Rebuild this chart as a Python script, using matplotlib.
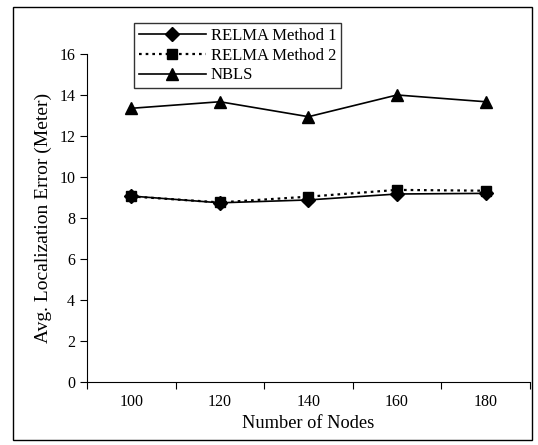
import matplotlib
matplotlib.use("Agg")
import matplotlib.pyplot as plt
from matplotlib.patches import Rectangle

plt.rcParams['font.family'] = ['Liberation Serif', 'DejaVu Serif']

# data
nodes = [100, 120, 140, 160, 180]
relma1 = [9.07, 8.74, 8.88, 9.17, 9.20]
relma2 = [9.05, 8.76, 9.04, 9.37, 9.33]
nbls = [13.35, 13.67, 12.94, 14.00, 13.67]

fig = plt.figure(figsize=(5.38, 4.45), dpi=100)
ax = fig.add_axes([0.1617, 0.1416, 0.8233, 0.7371])

# outer frame around the whole chart
fig.patches.append(Rectangle((13 / 538, 5 / 445), 519 / 538, 433 / 445,
                             transform=fig.transFigure, fill=False,
                             edgecolor='black', linewidth=1.0))

ax.plot(nodes, relma1, color='black', linewidth=1.2, marker='D', markersize=7,
        label='RELMA Method 1')
ax.plot(nodes, relma2, color='black', linewidth=1.6, linestyle=(0, (1.2, 1.8)),
        marker='s', markersize=7, label='RELMA Method 2')
ax.plot(nodes, nbls, color='black', linewidth=1.2, marker='^', markersize=9,
        label='NBLS')

ax.set_xlim(90, 190)
ax.set_ylim(0, 16)
ax.set_yticks(range(0, 17, 2))
ax.set_xticks(range(90, 191, 20))
ax.set_xticklabels([])
ax.set_xticks(nodes, minor=True)
ax.set_xticklabels([str(n) for n in nodes], minor=True)
ax.tick_params(axis='x', which='minor', length=0, pad=9, labelsize=11.5)
ax.tick_params(axis='x', which='major', direction='out', length=5)
ax.tick_params(axis='y', direction='out', length=5, labelsize=11.5)

for s in ['top', 'right']:
    ax.spines[s].set_visible(False)

ax.set_xlabel('Number of Nodes', fontsize=13.2, labelpad=3)
ax.set_ylabel('Avg. Localization Error (Meter)', fontsize=14, labelpad=5)

leg = ax.legend(loc='upper left', bbox_to_anchor=(47 / 443, 1.094), fontsize=12,
                frameon=True, fancybox=False, edgecolor='black', handlelength=4.0,
                borderpad=0.3, labelspacing=0.22, handletextpad=0.3, borderaxespad=0)
leg.get_frame().set_linewidth(1.0)

fig.savefig('out.png', dpi=100)
